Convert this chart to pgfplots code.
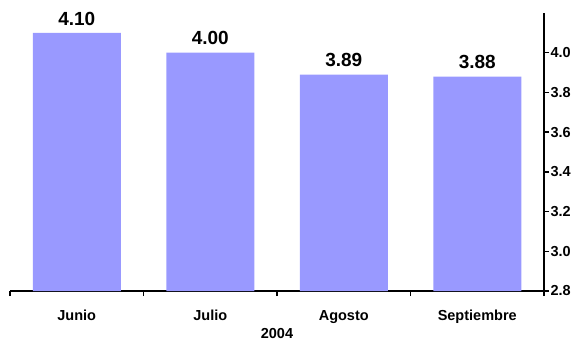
\documentclass[border=0pt]{standalone}
\usepackage{fontspec}
\setmainfont{Liberation Sans}
\usepackage{pgfplots}
\pgfplotsset{compat=1.18}
\definecolor{barblue}{RGB}{153,153,255}
\begin{document}
\begin{tikzpicture}
\path[use as bounding box] (-10pt,-50pt) rectangle (569pt,291pt);
\begin{axis}[
  scale only axis,
  width=534pt, height=278pt,
  xmin=-0.5, xmax=3.5,
  ymin=2.8, ymax=4.2,
  axis x line=bottom,
  axis y line=right,
  axis line style={-, line width=1.5pt},
  tick style={black, line width=1.5pt},
  tick align=outside,
  major tick length=5pt,
  xtick={-0.5,0.5,1.5,2.5,3.5},
  x tick label as interval,
  xticklabels={Junio,Julio,Agosto,Septiembre},
  xticklabel style={font=\fontsize{14.5}{16}\selectfont\bfseries,
    text height=10.5pt, text depth=3pt, yshift=-10pt},
  ytick={2.8,3.0,...,4.0},
  yticklabel style={font=\fontsize{14.5}{16}\selectfont\bfseries, xshift=-2pt,
    /pgf/number format/.cd, fixed, precision=1, fixed zerofill},
  /pgf/number format/assume math mode=true,
  xlabel={2004},
  xlabel style={font=\fontsize{14.5}{16}\selectfont\bfseries,
    at={(axis description cs:0.5,0)}, anchor=north, yshift=-34pt},
  ybar, bar width=88pt,
  clip=false,
  nodes near coords,
  nodes near coords style={font=\fontsize{19}{21}\selectfont\bfseries, yshift=4pt,
    /pgf/number format/.cd, fixed, precision=2, fixed zerofill,
    assume math mode=true},
]
\addplot[fill=barblue, draw=none] coordinates {(0,4.10) (1,4.00) (2,3.89) (3,3.88)};
\end{axis}
\end{tikzpicture}
\end{document}
